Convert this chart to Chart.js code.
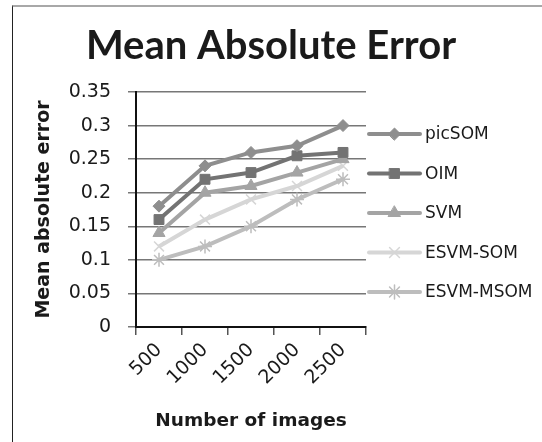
<!DOCTYPE html>
<html>
<head>
<meta charset="utf-8">
<script src="https://cdn.jsdelivr.net/npm/chart.js"></script>
<style>
  html, body { margin: 0; padding: 0; background: #fff; }
  #wrap { position: relative; width: 542px; height: 442px; }
  #frame { position: absolute; left: 12px; top: 5px; right: 0; bottom: 0;
           border-left: 1px solid #222; border-top: 2px solid #a8a8a8; pointer-events: none; }
  canvas { position: absolute; left: 0; top: 0; }
</style>
</head>
<body>
<div id="wrap">
  <canvas id="chart" width="542" height="442"></canvas>
  <div id="frame"></div>
</div>
<script>
const categories = ['500', '1000', '1500', '2000', '2500'];
const yTickLabels = ['0', '0.05', '0.1', '0.15', '0.2', '0.25', '0.3', '0.35'];

const picSOM = [0.18, 0.24, 0.26, 0.27, 0.30];
const oim = [0.16, 0.22, 0.23, 0.255, 0.26];
const svm = [0.14, 0.20, 0.21, 0.23, 0.25];
const esvmSom = [0.12, 0.16, 0.19, 0.21, 0.24];
const esvmMsom = [0.10, 0.12, 0.15, 0.19, 0.22];

const TITLE_FONT = 'Lato, "Open Sans", sans-serif';
const FONT = '"DejaVu Sans", Lato, sans-serif';

function series(label, data, color, style, radius, bw) {
  return {
    label: label,
    data: data,
    borderColor: color,
    backgroundColor: color,
    borderWidth: 4,
    pointStyle: style,
    pointRadius: radius,
    pointBorderWidth: bw,
    pointBackgroundColor: color,
    pointBorderColor: color,
    tension: 0
  };
}

const datasets = [
  series('picSOM', picSOM, '#8e8e8e', 'rectRot', 6, 1),
  series('OIM', oim, '#737373', 'rect', 7, 1),
  series('SVM', svm, '#a4a4a4', 'triangle', 7, 1),
  series('ESVM-SOM', esvmSom, '#d6d6d6', 'crossRot', 7, 1.5),
  series('ESVM-MSOM', esvmMsom, '#bdbdbd', 'star', 7, 1.5)
];

// legend on the right: line sample with marker, like the spreadsheet original
const sideLegend = {
  id: 'sideLegend',
  afterDraw(chart) {
    const ctx = chart.ctx;
    const x0 = 369, x1 = 420, top = 134, gap = 39.5;
    chart.data.datasets.forEach((ds, i) => {
      const y = top + i * gap;
      ctx.save();
      ctx.strokeStyle = ds.borderColor;
      ctx.lineWidth = 4;
      ctx.lineCap = 'round';
      ctx.beginPath();
      ctx.moveTo(x0, y);
      ctx.lineTo(x1, y);
      ctx.stroke();
      ctx.fillStyle = ds.pointBackgroundColor;
      ctx.strokeStyle = ds.pointBorderColor;
      ctx.lineWidth = ds.pointBorderWidth;
      Chart.helpers.drawPoint(ctx, {pointStyle: ds.pointStyle, radius: ds.pointRadius, rotation: 0, borderWidth: ds.pointBorderWidth}, (x0 + x1) / 2, y);
      ctx.fillStyle = '#1a1a1a';
      ctx.font = '17px ' + FONT;
      ctx.textBaseline = 'middle';
      ctx.textAlign = 'left';
      ctx.fillText(ds.label, 425, y + 1);
      ctx.restore();
    });
  }
};

new Chart(document.getElementById('chart'), {
  type: 'line',
  data: { labels: categories, datasets: datasets },
  options: {
    responsive: false,
    animation: false,
    layout: { padding: 0 },
    plugins: {
      legend: { display: false },
      tooltip: { enabled: false },
      title: {
        display: true,
        text: 'Mean Absolute Error',
        color: '#1a1a1a',
        font: { family: TITLE_FONT, size: 40, weight: 'bold', lineHeight: 1.2 },
        padding: { top: 22, bottom: 22 }
      }
    },
    scales: {
      x: {
        offset: true,
        grid: { offset: true, drawOnChartArea: false, tickLength: 8, color: '#555', lineWidth: 1.5 },
        border: { color: '#111', width: 2 },
        ticks: {
          autoSkip: false, minRotation: 45, maxRotation: 45, padding: 4,
          color: '#1a1a1a', font: { family: FONT, size: 19 }
        },
        title: {
          display: true, text: 'Number of images', color: '#1a1a1a',
          font: { family: FONT, size: 18.5, weight: 'bold', lineHeight: 1.2 },
          padding: { top: 0, bottom: 10 }
        },
        afterFit(scale) { scale.height = 115; }
      },
      y: {
        min: 0, max: 0.35,
        ticks: {
          stepSize: 0.05, padding: 17, color: '#1a1a1a',
          font: { family: FONT, size: 19 },
          callback: (v, i) => yTickLabels[i]
        },
        grid: { color: '#777', lineWidth: 1.5, tickLength: 8 },
        border: { color: '#111', width: 2 },
        title: {
          display: true, text: 'Mean absolute error', color: '#1a1a1a',
          font: { family: FONT, size: 19, weight: 'bold', lineHeight: 1.2 },
          padding: { top: 33, bottom: 0 }
        },
        afterFit(scale) { scale.width = 136; }
      },
      // empty right axis that only reserves room for the side legend
      yRight: {
        position: 'right',
        display: true,
        grid: { display: false, drawOnChartArea: false },
        border: { display: false },
        ticks: { display: false },
        afterFit(scale) { scale.width = 176; }
      }
    }
  },
  plugins: [sideLegend]
});
</script>
</body>
</html>
